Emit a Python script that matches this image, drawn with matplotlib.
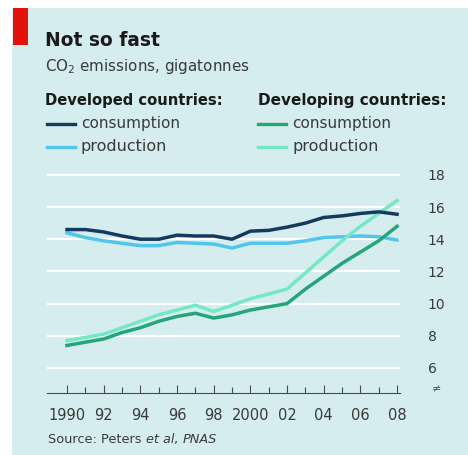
import matplotlib
matplotlib.use("Agg")
import matplotlib.pyplot as plt
from matplotlib.patches import Rectangle

plt.rcParams['font.family'] = ['DejaVu Sans']

years = list(range(1990, 2009))
dev_cons = [14.6, 14.6, 14.45, 14.2, 14.0, 14.0, 14.25, 14.2, 14.2, 14.0,
            14.5, 14.55, 14.75, 15.0, 15.35, 15.45, 15.6, 15.7, 15.55]
dev_prod = [14.4, 14.1, 13.9, 13.75, 13.6, 13.6, 13.8, 13.75, 13.7, 13.45,
            13.75, 13.75, 13.75, 13.9, 14.1, 14.15, 14.2, 14.15, 13.95]
deving_cons = [7.4, 7.6, 7.8, 8.2, 8.5, 8.9, 9.2, 9.4, 9.1, 9.3,
               9.6, 9.8, 10.0, 10.9, 11.7, 12.5, 13.2, 13.9, 14.8]
deving_prod = [7.7, 7.9, 8.1, 8.5, 8.9, 9.3, 9.6, 9.9, 9.5, 9.9,
               10.3, 10.6, 10.9, 11.9, 12.9, 13.9, 14.8, 15.6, 16.4]
xtick_pos = [1990, 1992, 1994, 1996, 1998, 2000, 2002, 2004, 2006, 2008]
xtick_labels = ["1990", "92", "94", "96", "98", "2000", "02", "04", "06", "08"]
ytick_pos = [6, 8, 10, 12, 14, 16, 18]

C_DEV_CONS = "#163a5f"
C_DEV_PROD = "#52c6ea"
C_DVG_CONS = "#27a57a"
C_DVG_PROD = "#74e8c4"
BG = "#d5edef"
TXT = "#1a1a1a"
GREY = "#3a3a3a"

W, H = 468, 455
fig = plt.figure(figsize=(W / 100, H / 100), dpi=100)
fig.patch.set_facecolor("white")
renderer = fig.canvas.get_renderer()


def fx(px):
    return px / W


def fy(py):
    return 1 - py / H


def fit_text(x, y, s, width_px, **kw):
    t = fig.text(fx(x), fy(y), s, fontsize=10, ha="left", va="baseline", **kw)
    w = t.get_window_extent(renderer=renderer).width
    t.set_fontsize(10 * width_px / w)
    return t


# background panel and red tag
fig.patches.append(Rectangle((fx(12), 0), 1 - fx(12), fy(8), transform=fig.transFigure,
                             facecolor=BG, edgecolor="none", zorder=-2))
fig.patches.append(Rectangle((fx(13), fy(45)), fx(15), fy(8) - fy(45), transform=fig.transFigure,
                             facecolor="#e3120b", edgecolor="none", zorder=-1))

fit_text(45, 46, "Not so fast", 115, fontweight="bold", color=TXT)
fit_text(45, 71, "CO$_2$ emissions, gigatonnes", 205, color=GREY)
fit_text(45, 105, "Developed countries:", 177, fontweight="bold", color=TXT)
fit_text(258, 105, "Developing countries:", 189, fontweight="bold", color=TXT)


def legend_item(x0, y, color, label, width_px):
    fig.add_artist(plt.Line2D([fx(x0), fx(x0 + 28)], [fy(y), fy(y)], color=color, lw=2.4,
                              transform=fig.transFigure))
    fit_text(x0 + 34, y + 4, label, width_px, color=GREY)


legend_item(47, 124, C_DEV_CONS, "consumption", 99)
legend_item(47, 147, C_DEV_PROD, "production", 86)
legend_item(258, 124, C_DVG_CONS, "consumption", 99)
legend_item(258, 147, C_DVG_PROD, "production", 86)

# source line with italics
src_parts = [("Source: Peters ", "normal"), ("et al", "italic"), (", ", "normal"), ("PNAS", "italic")]
x = fx(48)
for txt, st in src_parts:
    tt = fig.text(x, fy(443), txt, fontsize=9.3, color=GREY, va="baseline", ha="left",
                  style=st)
    bb = tt.get_window_extent(renderer=renderer)
    x += bb.width / fig.bbox.width

# axes
left, right = 47, 400
top_y, bot_y = 170, 393
ax = fig.add_axes([fx(left), fy(bot_y), fx(right) - fx(left), fy(top_y) - fy(bot_y)])
ax.set_facecolor("none")
ax.set_xlim(1988.91, 2008.16)
ax.set_ylim(4.445, 18.3)

for v in ytick_pos:
    ax.axhline(v, color="white", lw=1.6, zorder=1)

ax.plot(years, dev_prod, color=C_DEV_PROD, lw=2.5, zorder=3)
ax.plot(years, dev_cons, color=C_DEV_CONS, lw=2.5, zorder=4)
ax.plot(years, deving_prod, color=C_DVG_PROD, lw=2.5, zorder=3)
ax.plot(years, deving_cons, color=C_DVG_CONS, lw=2.5, zorder=4)

for s in ["top", "left", "right"]:
    ax.spines[s].set_visible(False)
ax.spines["bottom"].set_color("#4a4a4a")
ax.spines["bottom"].set_linewidth(0.8)

ax.set_xticks(xtick_pos)
ax.set_xticklabels(xtick_labels)
ax.set_xticks(years, minor=True)
ax.tick_params(axis="x", which="both", direction="in", length=4, width=0.8, color="#4a4a4a",
               labelsize=10.5, labelcolor=GREY, pad=11)
ax.tick_params(axis="x", which="major", length=6)

ax.yaxis.tick_right()
ax.set_yticks(ytick_pos)
ax.set_yticklabels([str(v) for v in ytick_pos])
ax.tick_params(axis="y", length=0, labelsize=10, labelcolor=GREY, pad=20)
fig.text(fx(437), fy(389), "\u2260", fontsize=8, color="#555555", ha="center", va="center")

fig.savefig("out.png", dpi=100, facecolor=fig.get_facecolor())
